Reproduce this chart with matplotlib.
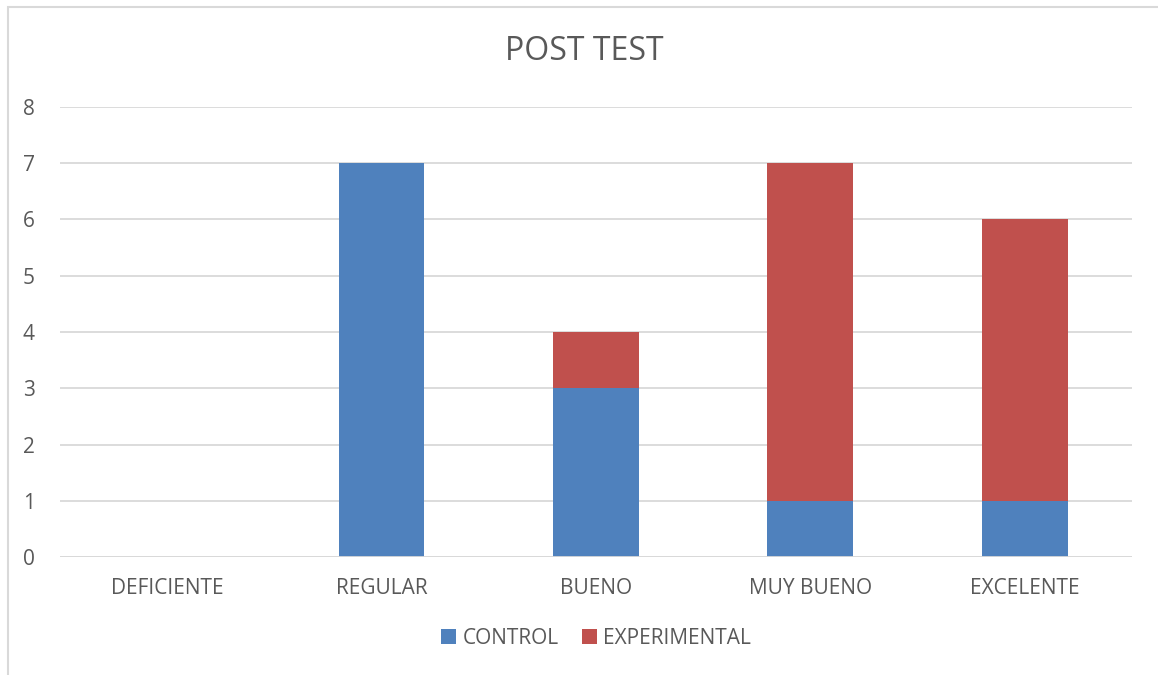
import matplotlib.pyplot as plt
from matplotlib.patches import Rectangle

categories = ["DEFICIENTE", "REGULAR", "BUENO", "MUY BUENO", "EXCELENTE"]
control = [0, 7, 3, 1, 1]
experimental = [0, 0, 1, 6, 5]

plt.rcParams['font.family'] = ['Open Sans', 'DejaVu Sans']
txt = "#595959"
grid = "#D9D9D9"

fig = plt.figure(figsize=(11.58, 6.75), dpi=100)
ax = fig.add_axes([0.0518, 0.1748, 0.9257, 0.6667])

x = range(len(categories))
ax.bar(x, control, width=0.4, color="#4F81BD", label="CONTROL", zorder=3)
ax.bar(x, experimental, width=0.4, bottom=control, color="#C0504D",
       label="EXPERIMENTAL", zorder=3)

ax.set_xlim(-0.5, len(categories) - 0.5)
ax.set_ylim(0, 8)
ax.set_yticks(range(0, 9))
ax.set_xticks(list(x))
ax.set_xticklabels(categories)
ax.yaxis.grid(True, color=grid, linewidth=1.3, zorder=0)
for s in ax.spines.values():
    s.set_visible(False)
ax.axhline(0, color=grid, linewidth=1.3, zorder=4)
ax.tick_params(axis='both', length=0, colors=txt, labelsize=15)
ax.tick_params(axis='y', pad=18)
ax.tick_params(axis='x', pad=15)

fig.suptitle("POST TEST", x=0.505, y=0.948, fontsize=23, color=txt)

ax.legend(loc="center", bbox_to_anchor=(0.5, -0.18), ncol=2, frameon=False,
          fontsize=15, labelcolor=txt, handlelength=0.75, handleheight=0.75,
          handletextpad=0.3, columnspacing=1.1)

fig.patches.append(Rectangle((8 / 1158, -0.1), 1.2, (1 - 7 / 675) + 0.1,
                             transform=fig.transFigure, fill=False,
                             edgecolor=grid, linewidth=1.5))

fig.savefig("out.png", dpi=100)
